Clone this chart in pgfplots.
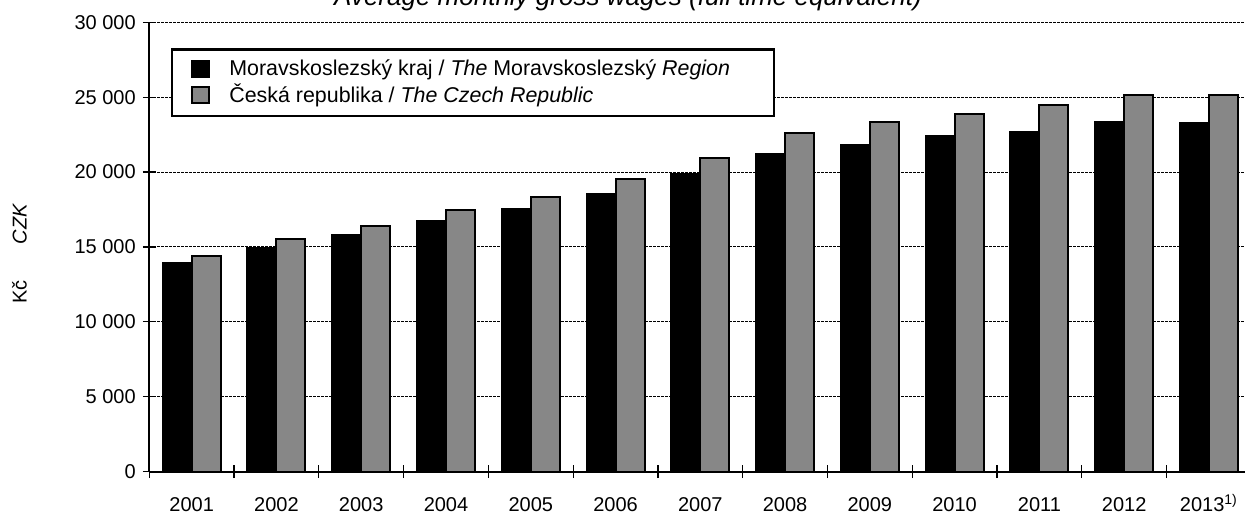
\documentclass[border=0pt]{standalone}
\usepackage{pgfplots}
\pgfplotsset{compat=1.18}
\usepackage{fontspec}
\setmainfont{Liberation Sans}
\definecolor{barGray}{RGB}{135,135,135}

\pgfplotstableread{
x  msk    cz
0  13930  14378
1  14940  15524
2  15810  16430
3  16720  17466
4  17550  18344
5  18550  19546
6  19890  20957
7  21230  22592
8  21830  23344
9  22410  23864
10 22680  24455
11 23310  25112
12 23280  25128
}\wages

\begin{document}
\begin{tikzpicture}
\begin{axis}[
    at={(74.65pt,-235.85pt)}, anchor=south west,
    scale only axis,
    width=551pt, height=224.75pt,
    xmin=-0.5, xmax=12.5,
    ymin=0, ymax=30000,
    scaled y ticks=false,
    axis lines=left,
    axis line style={-, line width=1pt},
    ybar, ybar=0pt, bar width=14.5pt,
    ytick={0,5000,...,30000},
    yticklabels={0,5 000,10 000,15 000,20 000,25 000,30 000},
    xtick={-0.5,0.5,...,12.5},
    xticklabel=\empty,
    extra x ticks={0,1,...,12},
    extra x tick labels={2001,2002,2003,2004,2005,2006,2007,2008,2009,2010,2011,2012,2013\textsuperscript{\scriptsize 1)}},
    extra x tick style={major tick length=0pt, grid=none,
        xticklabel style={yshift=-9pt, text height=7.3pt, text depth=0pt}},
    tick align=center,
    major tick length=6.5pt,
    tick style={black, line width=0.6pt},
    ymajorgrids,
    grid style={black, line width=0.5pt, dash pattern=on 1.5pt off 0.5pt},
    tick label style={font=\fontsize{10}{12}\selectfont},
    /pgf/number format/assume math mode=true,
    legend style={at={(0.0194,0.942)}, anchor=north west, draw=black,
        line width=1.2pt, inner xsep=9.5pt, inner ysep=3pt,
        font=\fontsize{10.7}{13}\selectfont, row sep=-1pt},
    legend cell align=left,
    legend image code/.code={%
        \draw[#1, line width=0.9pt] (0pt,-4pt) rectangle (8.5pt,4pt);
        \path (16.3pt,0pt);},
]
\addplot[fill=black, draw=black, line width=1pt] table[x=x, y=msk] {\wages};
\addplot[fill=barGray, draw=black, line width=1pt] table[x=x, y=cz] {\wages};
\legend{Moravskoslezský kraj / \textit{The} Moravskoslezský \textit{Region}\rule{10.5pt}{0pt},
        Česká republika / \textit{The Czech Republic}}
\end{axis}
\node[anchor=base, font=\fontsize{13}{15}\selectfont\itshape] at (314pt,-2.5pt)
    {Average monthly gross wages (full time equivalent)};
\node[rotate=90, font=\fontsize{10}{12}\selectfont] at (9.75pt,-126.75pt)
    {Kč\hspace{18pt}\textit{CZK}};
\pgfresetboundingbox
\path[use as bounding box] (0pt,0pt) rectangle (622.5pt,-258pt);
\end{tikzpicture}
\end{document}
